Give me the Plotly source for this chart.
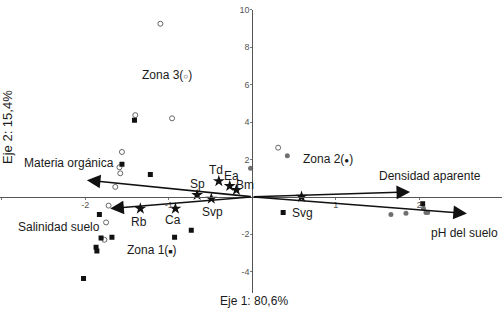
import plotly.graph_objects as go

# ---------------- data ----------------
zona3_x = [-1.10, -1.40, -0.96, -1.56, -1.59, -1.58, -1.64, -1.72, -1.75, -1.77, 0.31]
zona3_y = [9.26, 4.37, 4.20, 2.40, 1.58, 1.26, 0.53, -0.47, -1.37, -2.30, 2.63]

zona2_x = [0.42, -0.02, 1.66, 1.84, 2.05, 2.08, 2.10]
zona2_y = [2.20, 1.53, -0.95, -0.88, -0.62, -0.84, -0.84]

zona1_x = [-1.41, -1.56, -1.22, -1.83, -1.81, -1.68, -1.87, -1.86, -2.02, -0.93, -0.73, 0.37, 2.04]
zona1_y = [4.10, 1.74, 1.20, -0.95, -2.20, -2.16, -2.70, -2.90, -4.37, -2.16, -1.79, -0.84, -0.37]

species = ["Td", "Ea", "Bm", "Sp", "Svp", "Ca", "Rb", "Svg"]
species_x = [-0.40, -0.27, -0.19, -0.66, -0.49, -0.92, -1.34, 0.59]
species_y = [0.84, 0.58, 0.37, 0.10, -0.10, -0.63, -0.63, 0.00]

variables = ["Materia orgánica", "Salinidad suelo", "Densidad aparente", "pH del suelo"]
var_x = [-1.98, -1.70, 1.89, 2.57]
var_y = [0.89, -0.63, 0.26, -0.89]

zone_labels = ["Zona 3(<span style='font-size:8px'>○</span>)",
               "Zona 2(<span style='font-size:8px'>●</span>)",
               "Zona 1(<span style='font-size:7px'>■</span>)"]
zone_label_x = [-1.02, 0.91, -1.20]
zone_label_y = [6.53, 2.00, -2.84]

x_ticks = [-3, -2, -1, 1, 2]
y_ticks = [-4, -2, 2, 4, 6, 8, 10]
x_title = "Eje 1: 80,6%"
y_title = "Eje 2: 15,4%"

# ---------------- layout helpers ----------------
W, H = 502, 309
XR = [-3.02, 2.99]
YR = [-5.16, 10.0]
ydom = [(H - 293) / H, (H - 5) / H]
x_axis_pos = ydom[0] + (0 - YR[0]) / (YR[1] - YR[0]) * (ydom[1] - ydom[0])
y_axis_pos = (0 - XR[0]) / (XR[1] - XR[0])

FONT = "Liberation Sans, Arial, sans-serif"
LBL = 12
TXT = "#1a1a1a"

fig = go.Figure()

fig.add_trace(go.Scatter(x=zona3_x, y=zona3_y, mode="markers",
                         marker=dict(symbol="circle-open", size=5, color="#666",
                                     line=dict(width=1, color="#666")),
                         showlegend=False, hoverinfo="skip"))
fig.add_trace(go.Scatter(x=zona2_x, y=zona2_y, mode="markers",
                         marker=dict(symbol="circle", size=5, color="#707070"),
                         showlegend=False, hoverinfo="skip"))
fig.add_trace(go.Scatter(x=zona1_x, y=zona1_y, mode="markers",
                         marker=dict(symbol="square", size=5, color="#111"),
                         showlegend=False, hoverinfo="skip"))
fig.add_trace(go.Scatter(x=species_x, y=species_y, mode="markers",
                         marker=dict(symbol="star", size=9, color="#111"),
                         showlegend=False, hoverinfo="skip"))

annotations = []
# species labels: pixel offsets from their star
sp_shift = [(-3, 11), (2, 10), (9, 5), (0, 11), (1, -13), (-2, -11), (-1, -13), (1, -16)]
for name, sx, sy, (dx, dy) in zip(species, species_x, species_y, sp_shift):
    annotations.append(dict(x=sx, y=sy, xref="x", yref="y", text=name,
                            showarrow=False, xshift=dx, yshift=dy,
                            font=dict(family=FONT, size=LBL, color=TXT)))

label_shift = [(-18, 17), (-51, -18), (20, 16), (-2, -20)]
for name, vx, vy, (dx, dy) in zip(variables, var_x, var_y, label_shift):
    annotations.append(dict(x=vx, y=vy, xref="x", yref="y", ax=0, ay=0,
                            axref="x", ayref="y", text="", showarrow=True,
                            arrowhead=2, arrowsize=1.7, arrowwidth=1.6,
                            arrowcolor="#111", standoff=0))
    annotations.append(dict(x=vx, y=vy, xref="x", yref="y", text=name,
                            showarrow=False, xshift=dx, yshift=dy,
                            font=dict(family=FONT, size=LBL, color=TXT)))

for t, zx, zy in zip(zone_labels, zone_label_x, zone_label_y):
    annotations.append(dict(x=zx, y=zy, xref="x", yref="y", text=t,
                            showarrow=False,
                            font=dict(family=FONT, size=LBL, color=TXT)))

annotations.append(dict(x=254 / W, y=(H - 301) / H, xref="paper", yref="paper",
                        xanchor="center", yanchor="middle",
                        text=x_title, showarrow=False,
                        font=dict(family=FONT, size=12, color=TXT)))
annotations.append(dict(x=8 / W, y=(H - 124) / H, xref="paper", yref="paper",
                        xanchor="center", yanchor="middle",
                        text=y_title, showarrow=False, textangle=-90,
                        font=dict(family=FONT, size=13, color=TXT)))

fig.update_layout(
    width=W, height=H,
    margin=dict(l=0, r=0, t=0, b=0),
    paper_bgcolor="white", plot_bgcolor="white",
    showlegend=False,
    annotations=annotations,
    xaxis=dict(range=XR, domain=[0, 1], anchor="free", position=x_axis_pos,
               showline=True, linecolor="#555", linewidth=1,
               ticks="outside", ticklen=2, tickcolor="#777",
               ticklabelstandoff=-3,
               tickvals=x_ticks, ticktext=[str(v) for v in x_ticks],
               tickfont=dict(family=FONT, size=9, color="#555"),
               showgrid=False, zeroline=False),
    yaxis=dict(range=YR, domain=ydom, anchor="free", position=y_axis_pos,
               showline=True, linecolor="#555", linewidth=1,
               ticks="outside", ticklen=2, tickcolor="#777",
               ticklabelstandoff=-1,
               tickvals=y_ticks, ticktext=[str(v) for v in y_ticks],
               tickfont=dict(family=FONT, size=9, color="#555"),
               showgrid=False, zeroline=False),
)

fig.write_html(
    "out.html",
    config={"displayModeBar": False, "staticPlot": True},
    post_script="document.body.style.margin='0px';document.body.style.overflow='hidden';",
)
